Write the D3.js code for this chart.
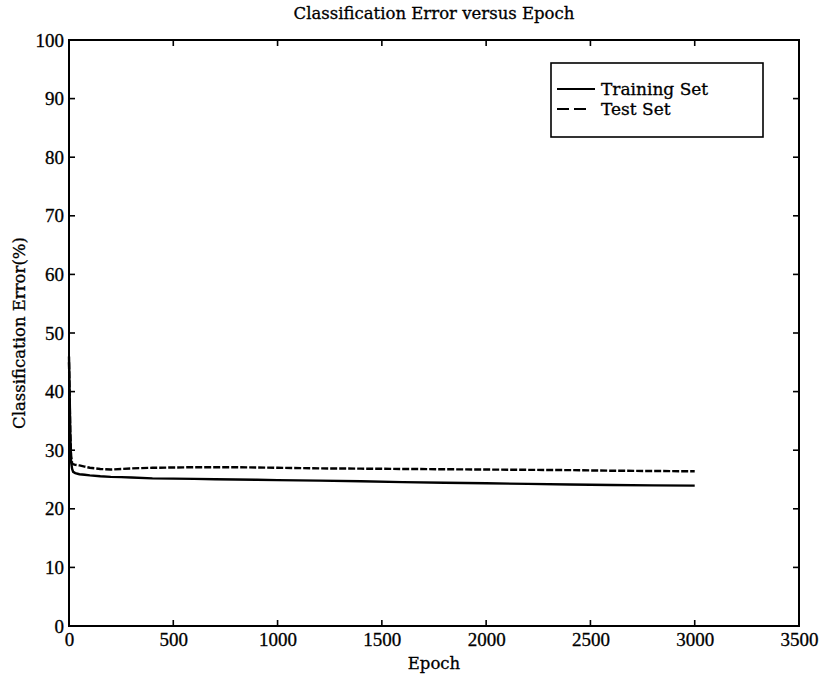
<!DOCTYPE html>
<html>
<head>
<meta charset="utf-8">
<script src="https://cdn.jsdelivr.net/npm/d3@7"></script>
<style>
  html, body { margin: 0; padding: 0; background: #fff; }
  svg { display: block; }
  text { fill: #000; stroke: #000; stroke-width: 0.3px; }
  .serif { font-family: "DejaVu Serif", "Liberation Serif", serif; }
  .num { font-family: "Liberation Serif", "DejaVu Serif", serif; }
</style>
</head>
<body>
<svg id="chart" width="821" height="678"></svg>
<script>
// Epochs at which the error was recorded
const epochs = [0, 3, 6, 10, 15, 20, 30, 50, 75, 100, 150, 200, 250, 300, 400, 500,
  600, 700, 800, 900, 1000, 1200, 1400, 1600, 1800, 2000, 2200, 2400, 2600, 2800, 3000];
// Classification error (%) on the training set
const trainError = [46, 40, 33, 28, 26.8, 26.3, 26.1, 25.9, 25.8, 25.7, 25.55, 25.45, 25.4, 25.35, 25.2, 25.15,
  25.1, 25.05, 25.0, 24.95, 24.9, 24.8, 24.7, 24.55, 24.45, 24.35, 24.25, 24.15, 24.05, 24.0, 23.95];
// Classification error (%) on the test set
const testError = [45, 39, 33, 29, 27.8, 27.6, 27.5, 27.4, 27.2, 27.0, 26.8, 26.7, 26.8, 26.9, 27.0, 27.05,
  27.1, 27.1, 27.1, 27.05, 27.0, 26.9, 26.85, 26.8, 26.75, 26.7, 26.65, 26.6, 26.5, 26.45, 26.4];

const xTicks = [0, 500, 1000, 1500, 2000, 2500, 3000, 3500];
const yTicks = [0, 10, 20, 30, 40, 50, 60, 70, 80, 90, 100];
const seriesNames = ["Training Set", "Test Set"];

const svg = d3.select("#chart");
const plotLeft = 69, plotRight = 799, plotTop = 40, plotBottom = 626;

const x = d3.scaleLinear().domain([0, 3500]).range([plotLeft, plotRight]);
const y = d3.scaleLinear().domain([0, 100]).range([plotBottom, plotTop]);

const tickLen = 6;

// Left axis labels (ticks drawn separately, pointing inward)
svg.append("g")
  .attr("transform", `translate(${plotLeft},0)`)
  .call(d3.axisLeft(y).tickValues(yTicks).tickSize(0).tickPadding(5).tickFormat(d3.format("d")))
  .call(g => g.select(".domain").remove())
  .call(g => g.selectAll("text").attr("class", "num").style("font-size", "19px").attr("font-family", null));

// Bottom axis labels
svg.append("g")
  .attr("transform", `translate(0,${plotBottom})`)
  .call(d3.axisBottom(x).tickValues(xTicks).tickSize(0).tickPadding(7).tickFormat(d3.format("d")))
  .call(g => g.select(".domain").remove())
  .call(g => g.selectAll("text").attr("class", "num").style("font-size", "19px").attr("font-family", null));

// Inward ticks on all four sides
const tickG = svg.append("g").attr("stroke", "#000").attr("stroke-width", 1.6);
yTicks.forEach(v => {
  tickG.append("line").attr("x1", plotLeft).attr("x2", plotLeft + tickLen).attr("y1", y(v)).attr("y2", y(v));
  tickG.append("line").attr("x1", plotRight).attr("x2", plotRight - tickLen).attr("y1", y(v)).attr("y2", y(v));
});
xTicks.forEach(v => {
  tickG.append("line").attr("x1", x(v)).attr("x2", x(v)).attr("y1", plotBottom).attr("y2", plotBottom - tickLen);
  tickG.append("line").attr("x1", x(v)).attr("x2", x(v)).attr("y1", plotTop).attr("y2", plotTop + tickLen);
});

// Frame
svg.append("rect")
  .attr("x", plotLeft).attr("y", plotTop)
  .attr("width", plotRight - plotLeft).attr("height", plotBottom - plotTop)
  .attr("fill", "none").attr("stroke", "#000").attr("stroke-width", 2);

// Series lines
const line = vals => d3.line()
  .x((d, i) => x(epochs[i]))
  .y(d => y(d))(vals);

svg.append("path")
  .attr("d", line(trainError))
  .attr("fill", "none").attr("stroke", "#000").attr("stroke-width", 2.4);

svg.append("path")
  .attr("d", line(testError))
  .attr("fill", "none").attr("stroke", "#000").attr("stroke-width", 2.4)
  .attr("stroke-dasharray", "7,2");

// Titles
svg.append("text").attr("class", "serif")
  .attr("x", (plotLeft + plotRight) / 2).attr("y", 19)
  .attr("text-anchor", "middle").style("font-size", "16.5px")
  .text("Classification Error versus Epoch");

svg.append("text").attr("class", "serif")
  .attr("x", (plotLeft + plotRight) / 2).attr("y", 669)
  .attr("text-anchor", "middle").style("font-size", "16.5px")
  .text("Epoch");

svg.append("text").attr("class", "serif")
  .attr("transform", `translate(25,${(plotTop + plotBottom) / 2}) rotate(-90)`)
  .attr("text-anchor", "middle").style("font-size", "16.5px")
  .text("Classification Error(%)");

// Legend
const legend = svg.append("g");
legend.append("rect")
  .attr("x", 551).attr("y", 63).attr("width", 212).attr("height", 74)
  .attr("fill", "#fff").attr("stroke", "#000").attr("stroke-width", 1.6);

const legendRows = [
  { name: seriesNames[0], dash: null, x2: 595, yy: 89 },
  { name: seriesNames[1], dash: "12,5", x2: 586, yy: 109 }
];
legendRows.forEach(r => {
  legend.append("line")
    .attr("x1", 557).attr("x2", r.x2).attr("y1", r.yy).attr("y2", r.yy)
    .attr("stroke", "#000").attr("stroke-width", 1.8)
    .attr("stroke-dasharray", r.dash);
  legend.append("text").attr("class", "serif")
    .attr("x", 601).attr("y", r.yy + 6)
    .style("font-size", "17px")
    .text(r.name);
});
</script>
</body>
</html>
